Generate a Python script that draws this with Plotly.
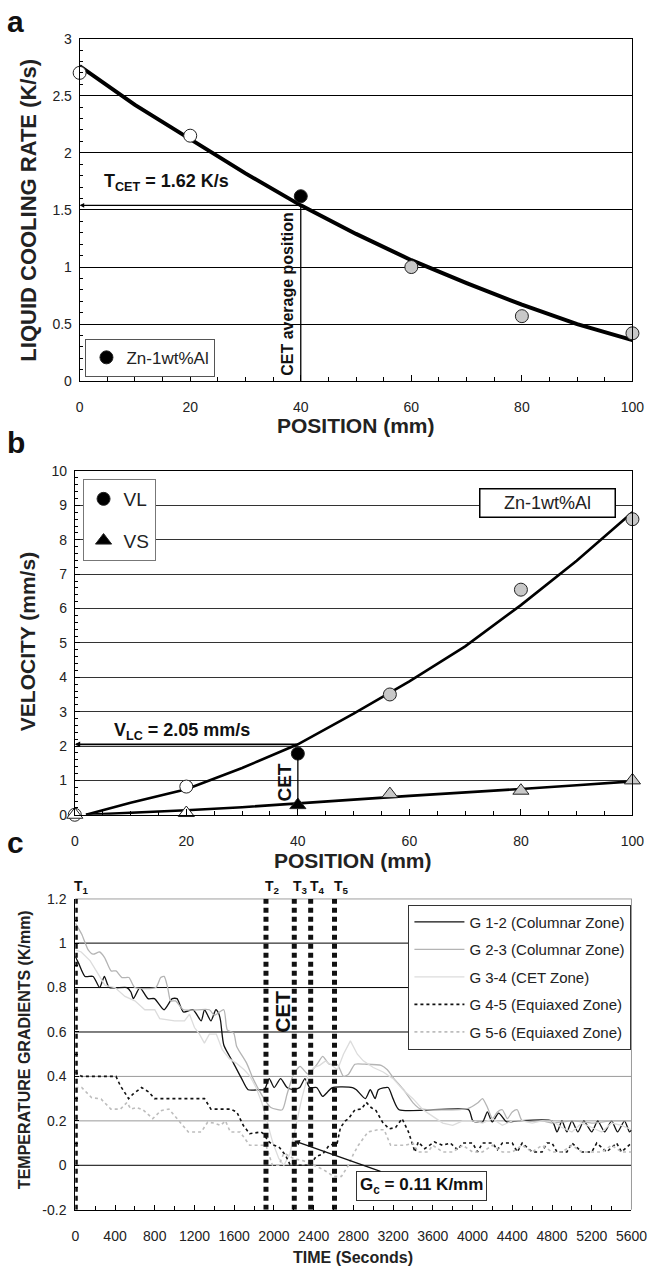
import plotly.graph_objects as go

NARROW = "Liberation Sans Narrow, Arial Narrow, Liberation Sans, Arial, sans-serif"
SANS = "Liberation Sans, Arial, sans-serif"
W, H = 663, 1275

# ---------------- panel a : liquid cooling rate ----------------
pos_a = [0, 20, 40, 60, 80, 100]
rate_a = [2.70, 2.15, 1.62, 1.00, 0.57, 0.42]
kind_a = ["open", "open", "cet", "grey", "grey", "grey"]
fit_pos_a = [0, 10, 20, 30, 40, 50, 60, 70, 80, 90, 100]
fit_rate_a = [2.76, 2.42, 2.12, 1.82, 1.54, 1.29, 1.06, 0.86, 0.67, 0.50, 0.36]
T_CET = 1.62
CET_POS = 40

# ---------------- panel b : velocities ----------------
pos_b = [0, 20, 40, 56.5, 80, 100]
vl_b = [0.0, 0.82, 1.78, 3.5, 6.55, 8.6]
vs_b = [0.0, 0.05, 0.28, 0.6, 0.7, 1.0]
kind_b = ["open", "open", "cet", "grey", "grey", "grey"]
fit_pos_b = [2, 10, 20, 30, 40, 50, 60, 70, 80, 90, 100]
fit_vl_b = [0.0, 0.35, 0.74, 1.36, 2.05, 2.94, 3.88, 4.9, 6.1, 7.39, 8.8]
fit_vs_b = [0.0, 0.05, 0.13, 0.22, 0.32, 0.44, 0.55, 0.64, 0.75, 0.86, 0.97]
V_LC = 2.05

# ---------------- panel c : temperature gradients ----------------
t_g12 = [0, 33, 98, 180, 245, 293, 342, 520, 560, 585, 650, 732, 797, 894, 976, 1024,
         1089, 1187, 1268, 1301, 1366, 1415, 1447, 1463, 1496, 1593, 1675, 1740, 1854,
         1904, 1953, 2002, 2067, 2132, 2198, 2260, 2312, 2360, 2430, 2491, 2540, 2588,
         2791, 2830, 2921, 2970, 3019, 3052, 3150, 3199, 3260, 3960, 4003, 4100, 4149,
         4198, 4263, 4344, 4458, 4800, 4850, 4900, 4950, 5000, 5060, 5120, 5200, 5260,
         5330, 5400, 5460, 5530, 5580, 5600]
g12 = [0.94, 0.91, 0.85, 0.85, 0.80, 0.85, 0.80, 0.80, 0.78, 0.75, 0.80, 0.75, 0.75, 0.70,
       0.75, 0.75, 0.69, 0.70, 0.65, 0.70, 0.65, 0.70, 0.68, 0.65, 0.54, 0.46, 0.39, 0.34,
       0.34, 0.34, 0.39, 0.35, 0.39, 0.35, 0.34, 0.35, 0.39, 0.35, 0.35, 0.31, 0.33, 0.35,
       0.35, 0.34, 0.30, 0.34, 0.30, 0.34, 0.35, 0.30, 0.25, 0.25, 0.20, 0.195, 0.24,
       0.195, 0.235, 0.195, 0.20, 0.20, 0.15, 0.20, 0.15, 0.20, 0.15, 0.20, 0.15, 0.20,
       0.15, 0.20, 0.15, 0.20, 0.15, 0.16]

t_g23 = [0, 65, 130, 180, 245, 295, 360, 410, 470, 540, 600, 810, 860, 895, 930, 960, 1010,
         1090, 1350, 1400, 1495, 1530, 1595, 1625, 1725, 1790, 1873, 1969, 2084, 2132,
         2198, 2263, 2344, 2442, 2491, 2556, 2637, 2700, 2751, 2816, 2914, 3080, 3142,
         3208, 3306, 3403, 3468, 3950, 4050, 4100, 4150, 4200, 4250, 4300, 4350, 4400,
         4450, 4500, 4700, 4800, 5000, 5200, 5400, 5600]
g23 = [1.09, 1.04, 0.97, 0.95, 0.96, 0.935, 0.875, 0.875, 0.845, 0.845, 0.80, 0.80, 0.845,
       0.85, 0.80, 0.74, 0.74, 0.70, 0.70, 0.675, 0.70, 0.61, 0.595, 0.535, 0.46, 0.39,
       0.32, 0.26, 0.25, 0.32, 0.41, 0.445, 0.41, 0.46, 0.49, 0.455, 0.455, 0.40, 0.41,
       0.455, 0.455, 0.45, 0.43, 0.39, 0.34, 0.28, 0.255, 0.255, 0.28, 0.30, 0.26, 0.21,
       0.24, 0.25, 0.21, 0.24, 0.25, 0.20, 0.20, 0.19, 0.20, 0.19, 0.20, 0.20]

t_g34 = [0, 60, 150, 250, 300, 400, 500, 600, 700, 800, 850, 1000, 1100, 1150, 1200, 1250,
         1300, 1350, 1420, 1480, 1550, 1620, 1700, 1760, 1820, 1880, 1930, 1990, 2050,
         2100, 2160, 2220, 2280, 2340, 2400, 2460, 2520, 2580, 2640, 2700, 2770, 2840,
         2900, 3000, 3100, 3200, 3300, 3400, 3500, 3600, 3700, 3800, 3900, 4000, 4100,
         4200, 4300, 4400, 4500, 4600, 4700, 4800, 4900, 5000, 5100, 5200, 5300, 5400,
         5500, 5600]
g34 = [0.97, 0.96, 0.92, 0.85, 0.81, 0.80, 0.76, 0.74, 0.70, 0.70, 0.66, 0.65, 0.65, 0.68,
       0.62, 0.59, 0.55, 0.59, 0.59, 0.52, 0.48, 0.46, 0.43, 0.40, 0.35, 0.28, 0.20, 0.10,
       0.03, 0.0, 0.05, 0.18, 0.30, 0.40, 0.44, 0.45, 0.47, 0.45, 0.43, 0.50, 0.56, 0.50,
       0.47, 0.44, 0.42, 0.39, 0.34, 0.30, 0.25, 0.22, 0.19, 0.18, 0.20, 0.20, 0.19, 0.21,
       0.18, 0.20, 0.20, 0.19, 0.20, 0.20, 0.17, 0.15, 0.19, 0.17, 0.15, 0.19, 0.18, 0.16]

t_g45 = [0, 65, 358, 410, 455, 537, 580, 618, 667, 740, 797, 1301, 1366, 1561, 1626, 1691,
         1756, 1870, 1900, 1940, 1985, 2050, 2116, 2165, 2360, 2426, 2491, 2556, 2637,
         2670, 2719, 2751, 2816, 2881, 2930, 2979, 3028, 3094, 3160, 3225, 3290, 3355,
         3420, 3453, 3518, 3616, 3700, 3776, 3850, 3900, 4000, 4050, 4100, 4200, 4250,
         4300, 4400, 4450, 4500, 4600, 4700, 4750, 4800, 4850, 4950, 5000, 5100, 5200,
         5250, 5350, 5450, 5500, 5600]
g45 = [0.42, 0.40, 0.40, 0.40, 0.357, 0.30, 0.32, 0.335, 0.35, 0.33, 0.30, 0.30, 0.253,
       0.253, 0.24, 0.18, 0.142, 0.15, 0.14, 0.11, 0.093, 0.083, 0.046, 0.0, 0.0, 0.04,
       0.05, 0.09, 0.10, 0.17, 0.20, 0.21, 0.25, 0.253, 0.283, 0.26, 0.246, 0.194, 0.164,
       0.17, 0.21, 0.15, 0.06, 0.105, 0.075, 0.105, 0.09, 0.10, 0.07, 0.10, 0.10, 0.06,
       0.10, 0.10, 0.07, 0.10, 0.10, 0.06, 0.10, 0.06, 0.06, 0.10, 0.10, 0.06, 0.06, 0.10,
       0.06, 0.06, 0.10, 0.06, 0.10, 0.06, 0.10]

t_g56 = [0, 65, 163, 260, 358, 455, 520, 560, 618, 680, 780, 862, 943, 1040, 1138, 1268,
         1333, 1400, 1463, 1512, 1561, 1659, 1724, 1756, 1920, 1985, 2050, 2100, 2200,
         2300, 2400, 2500, 2600, 2680, 2750, 2800, 2850, 2947, 3045, 3110, 3175, 3322,
         3400, 3450, 3550, 3600, 3700, 3800, 3900, 4000, 4100, 4200, 4300, 4400, 4500,
         4600, 4700, 4800, 4900, 5000, 5100, 5200, 5300, 5400, 5500, 5600]
g56 = [0.35, 0.35, 0.305, 0.298, 0.253, 0.253, 0.283, 0.253, 0.26, 0.25, 0.21, 0.246,
       0.253, 0.20, 0.15, 0.15, 0.194, 0.19, 0.18, 0.20, 0.15, 0.15, 0.113, 0.09, 0.09,
       0.0, 0.0, 0.055, 0.03, 0.02, 0.0, -0.02, -0.05, -0.05, 0.0, 0.05, 0.09, 0.15, 0.16,
       0.16, 0.09, 0.09, 0.10, 0.06, 0.06, 0.09, 0.06, 0.06, 0.09, 0.06, 0.06, 0.09, 0.06,
       0.06, 0.09, 0.06, 0.09, 0.06, 0.06, 0.09, 0.06, 0.06, 0.06, 0.09, 0.06, 0.06]

# name, times, values, colour, dash, width, shape
gradient_series = [
    ("G 1-2 (Columnar Zone)", t_g12, g12, "#111111", "solid", 1.3, "spline"),
    ("G 2-3 (Columnar Zone)", t_g23, g23, "#b4b4b4", "solid", 1.3, "spline"),
    ("G 3-4 (CET Zone)", t_g34, g34, "#dcdcdc", "solid", 1.3, "linear"),
    ("G 4-5 (Equiaxed Zone)", t_g45, g45, "#111111", "3px,3px", 1.6, "linear"),
    ("G 5-6 (Equiaxed Zone)", t_g56, g56, "#bdbdbd", "3px,3px", 1.6, "linear"),
]

t_marks = [0, 1920, 2205, 2370, 2610]
t_labels = ["T<sub>1</sub>", "T<sub>2</sub>", "T<sub>3</sub>", "T<sub>4</sub>", "T<sub>5</sub>"]
G_C = 0.11
time_ticks = list(range(0, 5601, 400))
grad_ticks = [-0.2, 0, 0.2, 0.4, 0.6, 0.8, 1.0, 1.2]
grad_ticktext = ["-0.2", "0", "0.2", "0.4", "0.6", "0.8", "1", "1.2"]
grad_grid_dark = [0, 0.6, 0.8, 1.0]
grad_grid_light = [0.2, 0.4]

FILL = {"open": "white", "cet": "black", "grey": "#c8c8c8"}


def dom_x(l, r):
    return [l / W, r / W]


def dom_y(t, b):
    return [1 - b / H, 1 - t / H]


fig = go.Figure()

# ---- panel a traces
fig.add_trace(go.Scatter(x=fit_pos_a, y=fit_rate_a, mode="lines", xaxis="x", yaxis="y",
                         line=dict(color="black", width=4), showlegend=False))
for k in ["open", "grey", "cet"]:
    xs = [p for p, c in zip(pos_a, kind_a) if c == k]
    ys = [v for v, c in zip(rate_a, kind_a) if c == k]
    fig.add_trace(go.Scatter(
        x=xs, y=ys, mode="markers", xaxis="x", yaxis="y", cliponaxis=False,
        name="Zn-1wt%Al", showlegend=(k == "cet"), legend="legend",
        marker=dict(symbol="circle", size=13, color=FILL[k], line=dict(color="#222", width=1))))

# ---- panel b traces
fig.add_trace(go.Scatter(x=fit_pos_b, y=fit_vl_b, mode="lines", xaxis="x2", yaxis="y2",
                         line=dict(color="black", width=2.6), showlegend=False))
fig.add_trace(go.Scatter(x=fit_pos_b, y=fit_vs_b, mode="lines", xaxis="x2", yaxis="y2",
                         line=dict(color="black", width=2.6), showlegend=False))
for k in ["open", "grey", "cet"]:
    xs = [p for p, c in zip(pos_b, kind_b) if c == k]
    y_l = [v for v, c in zip(vl_b, kind_b) if c == k]
    y_s = [v for v, c in zip(vs_b, kind_b) if c == k]
    fig.add_trace(go.Scatter(
        x=xs, y=y_l, mode="markers", xaxis="x2", yaxis="y2", cliponaxis=False,
        name="VL", showlegend=(k == "cet"), legend="legend2", legendgroup="vl",
        marker=dict(symbol="circle", size=13, color=FILL[k], line=dict(color="#222", width=1))))
    fig.add_trace(go.Scatter(
        x=xs, y=y_s, mode="markers", xaxis="x2", yaxis="y2", cliponaxis=False,
        name="VS", showlegend=(k == "cet"), legend="legend2", legendgroup="vs",
        marker=dict(symbol="triangle-up", size=14, color=FILL[k], line=dict(color="#222", width=1))))

# CET connector between VS and VL at the CET position
i_cet = pos_b.index(CET_POS)
fig.add_trace(go.Scatter(x=[CET_POS, CET_POS], y=[vs_b[i_cet], vl_b[i_cet]], mode="lines",
                         xaxis="x2", yaxis="y2", line=dict(color="black", width=1.3),
                         showlegend=False))

# panel a: CET position drop line
y_cross_a = fit_rate_a[fit_pos_a.index(CET_POS)]
fig.add_trace(go.Scatter(x=[CET_POS, CET_POS], y=[0, y_cross_a], mode="lines",
                         xaxis="x", yaxis="y", line=dict(color="black", width=1.3),
                         showlegend=False))

# ---- panel c traces
for name, tx, gy, col, dash, wd, shape in gradient_series:
    fig.add_trace(go.Scatter(x=tx, y=gy, mode="lines", xaxis="x3", yaxis="y3", name=name,
                             legend="legend3", legendgroup=name,
                             line=dict(color=col, width=wd, dash=dash, shape=shape,
                                       smoothing=0.6 if shape == "spline" else None)))

tx_lines, ty_lines = [], []
for t in t_marks:
    tx_lines += [t, t, None]
    ty_lines += [grad_ticks[0], grad_ticks[-1], None]
fig.add_trace(go.Scatter(x=tx_lines, y=ty_lines, mode="lines", xaxis="x3", yaxis="y3",
                         line=dict(color="#111", width=5, dash="5px,4px"), showlegend=False,
                         cliponaxis=False))

# ---- axes
tickfont = dict(family=NARROW, size=14, color="#222")

fig.update_layout(
    width=W, height=H, margin=dict(l=0, r=0, t=0, b=0),
    paper_bgcolor="white", plot_bgcolor="white",
    xaxis=dict(domain=dom_x(78, 648), anchor="y", range=[0, 100], dtick=20,
               showline=True, linecolor="black", mirror=True, showgrid=False, zeroline=False,
               ticks="inside", ticklen=6, tickcolor="black",
               minor=dict(dtick=5, ticks="inside", ticklen=4, tickcolor="black"),
               ticklabelstandoff=13, tickfont=tickfont),
    yaxis=dict(domain=dom_y(31, 378), anchor="x", range=[0, 3], dtick=0.5,
               showline=True, linecolor="black", mirror=True, zeroline=False,
               showgrid=True, gridcolor="black", gridwidth=1, ticks="inside", ticklen=5,
               tickcolor="black", minor=dict(dtick=0.1, ticks="inside", ticklen=3, tickcolor="black"),
               ticklabelstandoff=4, tickfont=tickfont),
    xaxis2=dict(domain=dom_x(73, 648), anchor="y2", range=[0, 100], dtick=20,
                showline=True, linecolor="black", mirror=True, showgrid=False, zeroline=False,
                ticks="inside", ticklen=6, tickcolor="black",
                minor=dict(dtick=5, ticks="inside", ticklen=4, tickcolor="black"),
                ticklabelstandoff=13, tickfont=tickfont),
    yaxis2=dict(domain=dom_y(469, 817), anchor="x2", range=[0, 10], dtick=1,
                showline=True, linecolor="black", mirror=True, zeroline=False,
                showgrid=True, gridcolor="#333", gridwidth=1, ticks="inside", ticklen=5,
                tickcolor="black", minor=dict(dtick=0.2, ticks="inside", ticklen=3, tickcolor="black"),
                ticklabelstandoff=4, tickfont=tickfont),
    xaxis3=dict(domain=dom_x(73.5, 647), anchor="y3", range=[0, 5600], tickvals=time_ticks,
                showline=True, linecolor="black", showgrid=False, zeroline=False,
                ticks="inside", ticklen=5, tickcolor="black",
                minor=dict(dtick=200, ticks="inside", ticklen=4, tickcolor="black"),
                ticklabelstandoff=13, tickfont=tickfont),
    yaxis3=dict(domain=dom_y(902, 1217), anchor="x3", range=[-0.2, 1.2], tickvals=grad_ticks,
                ticktext=grad_ticktext, showline=True, linecolor="black", zeroline=False,
                showgrid=False, ticks="inside", ticklen=4, tickcolor="black", ticklabelstandoff=5,
                minor=dict(dtick=0.1, ticks="inside", ticklen=3, tickcolor="black"),
                tickfont=tickfont),
    legend=dict(x=84 / W, y=1 - 335 / H, xanchor="left", yanchor="top", bgcolor="white",
                bordercolor="#555", borderwidth=1, font=dict(family=NARROW, size=17, color="#222"),
                itemwidth=30),
    legend2=dict(x=81 / W, y=1 - 477 / H, xanchor="left", yanchor="top", bgcolor="white",
                 bordercolor="#777", borderwidth=1, tracegroupgap=14,
                 font=dict(family=NARROW, size=19, color="#222"), itemwidth=30),
    legend3=dict(x=417 / W, y=1 - 908 / H, xanchor="left", yanchor="top", bgcolor="white",
                 bordercolor="#333", borderwidth=1, tracegroupgap=5,
                 font=dict(family=NARROW, size=15, color="#222"), itemwidth=50),
)

# panel c grid and frame
shapes = []
for v in grad_grid_dark + [grad_ticks[-1]]:
    shapes.append(dict(type="line", xref="x3 domain", yref="y3", x0=0, x1=1, y0=v, y1=v,
                       line=dict(color="black", width=1), layer="below"))
for v in grad_grid_light:
    shapes.append(dict(type="line", xref="x3 domain", yref="y3", x0=0, x1=1, y0=v, y1=v,
                       line=dict(color="#9a9a9a", width=1), layer="below"))
shapes.append(dict(type="line", xref="x3 domain", yref="y3 domain", x0=1, x1=1, y0=0, y1=1,
                   line=dict(color="#9a9a9a", width=1), layer="below"))
fig.update_layout(shapes=shapes)

ann = []
for letter, py in [("a", 14), ("b", 440), ("c", 845)]:
    ann.append(dict(text=f"<b>{letter}</b>", x=12 / W, y=1 - py / H,
                    font=dict(family=SANS, size=30, color="#111")))
ann += [
    dict(text="<b>LIQUID COOLING RATE (K/s)</b>", x=25 / W, y=1 - 205 / H, textangle=-90,
         font=dict(family=SANS, size=22, color="#222")),
    dict(text="<b>POSITION (mm)</b>", x=363 / W, y=1 - 423 / H,
         font=dict(family=SANS, size=21, color="#222")),
    dict(text="<b>VELOCITY (mm/s)</b>", x=25 / W, y=1 - 642 / H, textangle=-90,
         font=dict(family=SANS, size=21, color="#222")),
    dict(text="<b>POSITION (mm)</b>", x=360 / W, y=1 - 863 / H,
         font=dict(family=SANS, size=21, color="#222")),
    dict(text="<b>TEMPERATURE GRADIENTS (K/mm)</b>", x=21 / W, y=1 - 1055 / H, textangle=-90,
         font=dict(family=SANS, size=16, color="#222")),
    dict(text="<b>TIME (Seconds)</b>", x=360 / W, y=1 - 1265 / H,
         font=dict(family=SANS, size=16, color="#222")),
    dict(text="Zn-1wt%Al", x=560 / W, y=1 - 501 / H,
         font=dict(family=NARROW, size=18, color="#222"),
         bordercolor="black", borderwidth=1.5, bgcolor="white", width=132, height=25),
]
for a in ann:
    a.update(xref="paper", yref="paper", showarrow=False, xanchor="center", yanchor="middle")

# panel a notes
ann += [
    dict(x=0, y=y_cross_a, ax=CET_POS, ay=y_cross_a, xref="x", yref="y", axref="x", ayref="y",
         text="", showarrow=True, arrowhead=2, arrowsize=0.7, arrowwidth=1.3, arrowcolor="black"),
    dict(x=15.7, y=1.74, xref="x", yref="y", showarrow=False,
         text=f"<b>T<sub>CET</sub> = {T_CET} K/s</b>", font=dict(family=SANS, size=18, color="#111")),
    dict(x=37.6, y=0.77, xref="x", yref="y", showarrow=False, textangle=-90,
         text="<b>CET average position</b>", font=dict(family=SANS, size=16, color="#111")),
]
# panel b notes
ann += [
    dict(x=0, y=V_LC, ax=CET_POS, ay=V_LC, xref="x2", yref="y2", axref="x2", ayref="y2",
         text="", showarrow=True, arrowhead=2, arrowsize=0.6, arrowwidth=1.8, arrowcolor="black"),
    dict(x=19.3, y=2.41, xref="x2", yref="y2", showarrow=False,
         text=f"<b>V<sub>LC</sub> = {V_LC} mm/s</b>", font=dict(family=SANS, size=18, color="#111")),
    dict(x=37.6, y=0.95, xref="x2", yref="y2", showarrow=False, textangle=-90,
         text="<b>CET</b>", font=dict(family=SANS, size=19, color="#111")),
]
# panel c notes
for t, lab in zip(t_marks, t_labels):
    ann.append(dict(x=t, y=grad_ticks[-1], xref="x3", yref="y3", yshift=12, xshift=-3,
                    xanchor="left", showarrow=False, text=f"<b>{lab}</b>",
                    font=dict(family=SANS, size=14, color="#111")))
ann += [
    dict(x=2090, y=0.69, xref="x3", yref="y3", showarrow=False, textangle=-90,
         text="<b>CET</b>", font=dict(family=SANS, size=21, color="#111")),
    dict(x=t_marks[2], y=G_C, ax=3484, ay=-0.093, xref="x3", yref="y3", axref="x3", ayref="y3",
         text=f"<b>G<sub>c</sub> = {G_C} K/mm</b>", showarrow=True, arrowhead=2, arrowsize=0.8,
         arrowwidth=1.4, arrowcolor="#111", bgcolor="white", bordercolor="#333", borderwidth=1,
         borderpad=3, font=dict(family=SANS, size=17, color="#111")),
]
fig.update_layout(annotations=ann)

fig.write_html("out.html")
